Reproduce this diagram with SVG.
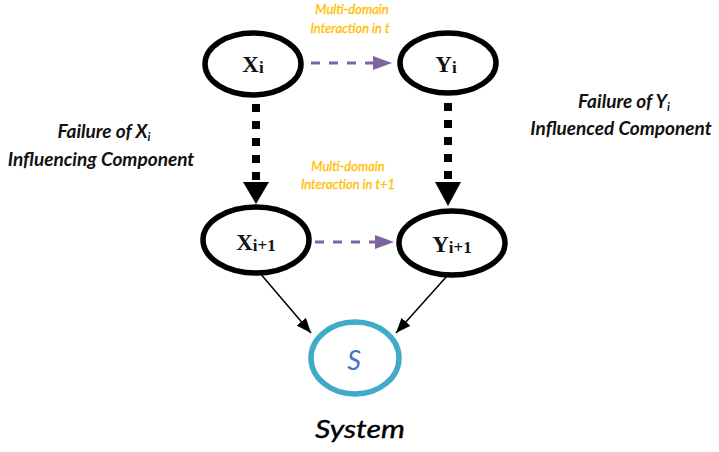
<svg xmlns="http://www.w3.org/2000/svg" width="719" height="452" viewBox="0 0 719 452">
<style>
.node{fill:#fff;stroke:#000;stroke-width:5.5}
.sys{fill:#fff;stroke:#41AAC8;stroke-width:5.5}
.nl{font-family:"Liberation Serif",serif;font-weight:bold;font-size:23px;fill:#111;text-anchor:middle}
.sub{font-size:17px}
.orange{font-family:Lato,"Open Sans",sans-serif;font-style:italic;font-size:13px;fill:#FFC000;text-anchor:middle;stroke:#FFC000;stroke-width:0.3}
.side{font-family:Lato,"Open Sans",sans-serif;font-style:italic;font-weight:bold;font-size:19px;fill:#111;text-anchor:middle}
.ssub{font-size:12px}
.dots{stroke:#000;stroke-width:8;stroke-dasharray:8 9;fill:none}
.dash{stroke:#8064A2;stroke-width:3;stroke-dasharray:9 9;fill:none}
.thin{stroke:#000;stroke-width:1.5;fill:none;marker-end:url(#ah)}
</style>
<defs>
<marker id="ah" markerUnits="userSpaceOnUse" markerWidth="16" markerHeight="12" refX="15" refY="6" orient="auto">
<path d="M0,0 L15,6 L0,12 z" fill="#000"/>
</marker>
</defs>
<g id="connectors">
<line class="dots" x1="256" y1="104" x2="256" y2="182"/>
<polygon points="243,182 269,182 256,204" fill="#000"/>
<line class="dots" x1="448" y1="103" x2="448" y2="182"/>
<polygon points="435,182 461,182 448,206" fill="#000"/>
<line class="dash" x1="311" y1="63" x2="374" y2="63"/>
<polygon points="373,56 392,63 373,70" fill="#8064A2"/>
<line class="dash" x1="315" y1="242" x2="376" y2="242"/>
<polygon points="375,235 394,242 375,249" fill="#8064A2"/>
<line class="thin" x1="259" y1="272" x2="311" y2="333"/>
<line class="thin" x1="447" y1="276" x2="396" y2="333"/>
</g>
<g id="Xi">
<ellipse class="node" cx="253" cy="64" rx="48" ry="31"/>
<text class="nl" x="253" y="72">X<tspan class="sub" dy="1">i</tspan></text>
</g>
<g id="Yi">
<ellipse class="node" cx="448" cy="63" rx="48" ry="30"/>
<text class="nl" x="446" y="72">Y<tspan class="sub" dy="1">i</tspan></text>
</g>
<g id="Xi1">
<ellipse class="node" cx="256" cy="240" rx="53" ry="33"/>
<text class="nl" x="256" y="250">X<tspan class="sub" dy="1">i+1</tspan></text>
</g>
<g id="Yi1">
<ellipse class="node" cx="452" cy="243" rx="53" ry="32"/>
<text class="nl" x="452" y="252">Y<tspan class="sub" dy="1">i+1</tspan></text>
</g>
<g id="S">
<ellipse class="sys" cx="355" cy="358" rx="44" ry="36"/>
<text x="354" y="370" font-family="Lato,'Open Sans',sans-serif" font-style="italic" font-size="27" fill="#4472C4" text-anchor="middle">S</text>
</g>
<g id="labels">
<text class="orange" x="352" y="14">Multi-domain</text>
<text class="orange" x="350" y="33">Interaction in t</text>
<text class="orange" x="348" y="171">Multi-domain</text>
<text class="orange" x="348" y="189">Interaction in t+1</text>
<text class="side" x="104" y="138">Failure of X<tspan class="ssub" dy="3">i</tspan></text>
<text class="side" x="101" y="166">Influencing Component</text>
<text class="side" x="624" y="108">Failure of Y<tspan class="ssub" dy="3">i</tspan></text>
<text class="side" x="621" y="135">Influenced Component</text>
<text x="360" y="438" font-family="Lato,'Open Sans',sans-serif" font-style="italic" font-size="26" fill="#000" stroke="#000" stroke-width="0.4" text-anchor="middle" textLength="90" lengthAdjust="spacingAndGlyphs">System</text>
</g>
</svg>
